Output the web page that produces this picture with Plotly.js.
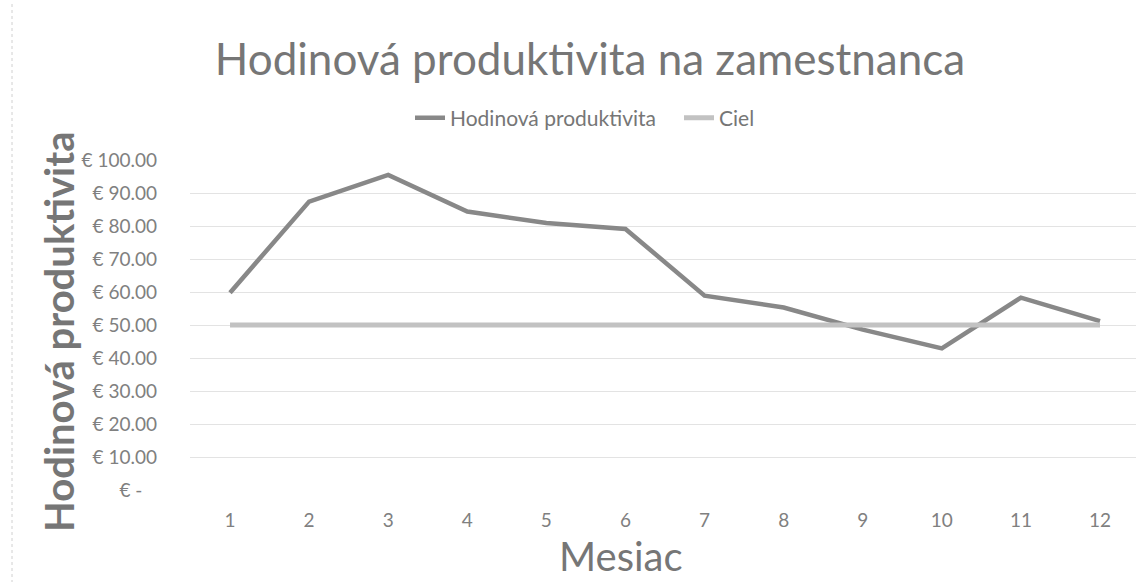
<!DOCTYPE html>
<html>
<head>
<meta charset="utf-8">
<script src="https://cdn.plot.ly/plotly-3.0.1.min.js"></script>
<style>html,body{margin:0;padding:0;background:#fff;}#chart{width:1136px;height:582px;}</style>
</head>
<body>
<div id="chart"></div>
<script>
const months = [1, 2, 3, 4, 5, 6, 7, 8, 9, 10, 11, 12];
const monthLabels = ["1", "2", "3", "4", "5", "6", "7", "8", "9", "10", "11", "12"];
const productivity = [59.8, 87.4, 95.5, 84.4, 80.9, 79.1, 58.9, 55.3, 48.6, 42.9, 58.3, 51.2];
const target = [50, 50, 50, 50, 50, 50, 50, 50, 50, 50, 50, 50];
const yTickVals = [0, 10, 20, 30, 40, 50, 60, 70, 80, 90, 100];
const yTickText = ["€ -\u00a0\u00a0\u00a0", "€ 10.00", "€ 20.00", "€ 30.00", "€ 40.00", "€ 50.00", "€ 60.00", "€ 70.00", "€ 80.00", "€ 90.00", "€ 100.00"];

const FONT = "Lato, 'Open Sans', sans-serif";
const TXT = "#767676";

const traces = [
  {x: months, y: productivity, type: "scatter", mode: "lines", name: "Hodinová produktivita",
   line: {color: "#888888", width: 4.5}},
  {x: months, y: target, type: "scatter", mode: "lines", name: "Ciel",
   line: {color: "#c2c2c2", width: 5}}
];

const layout = {
  width: 1136, height: 582,
  margin: {l: 190, r: 0, t: 160, b: 92},
  paper_bgcolor: "#ffffff", plot_bgcolor: "#ffffff",
  font: {family: FONT, color: TXT},
  title: {text: "Hodinová produktivita na zamestnanca", font: {family: FONT, size: 44, color: TXT},
          x: 590/1136, xanchor: "center", xref: "container", y: 1 - 60/582, yanchor: "middle", yref: "container"},
  showlegend: true,
  legend: {orientation: "h", x: (410-190)/946, xanchor: "left", y: 1.127, yanchor: "middle",
           font: {family: FONT, size: 21, color: TXT}, bgcolor: "rgba(0,0,0,0)",
           entrywidth: 224, entrywidthmode: "pixels"},
  xaxis: {range: [0.494, 12.455], tickvals: months, ticktext: monthLabels, showgrid: false, zeroline: false,
          showline: false, ticks: "", tickfont: {family: FONT, size: 19, color: "#808080"}, ticklabelstandoff: 17},
  yaxis: {range: [0, 100], tickvals: yTickVals, ticktext: yTickText, showgrid: true, gridcolor: "#e3e3e3", gridwidth: 1,
          zeroline: false, showline: false, ticks: "", tickfont: {family: FONT, size: 19, color: "#808080"}, ticklabelstandoff: 32},
  annotations: [
    {text: "Mesiac", xref: "paper", yref: "paper", x: (621-190)/946, y: (490-556)/330, xanchor: "center", yanchor: "middle",
     showarrow: false, font: {family: FONT, size: 40, color: TXT}},
    {text: "Hodinová produktivita", xref: "paper", yref: "paper", x: (59-190)/946, y: (490-332)/330, xanchor: "center", yanchor: "middle",
     textangle: -90, showarrow: false, font: {family: FONT, size: 40, color: TXT, weight: 700}}
  ],
  shapes: [
    {type: "line", xref: "paper", yref: "paper", x0: (12-190)/946, x1: (12-190)/946, y0: -0.3, y1: 1.48,
     line: {color: "#d0d0d0", width: 1, dash: "dot"}}
  ]
};

Plotly.newPlot("chart", traces, layout, {displayModeBar: false, staticPlot: true});
</script>
</body>
</html>
